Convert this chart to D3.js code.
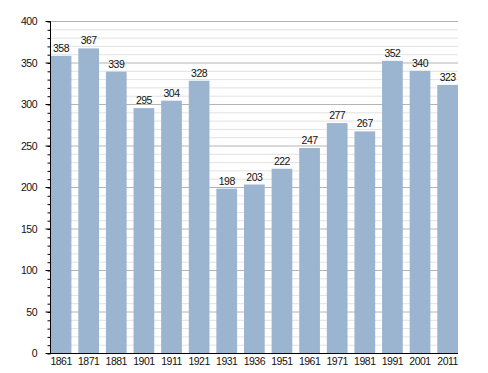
<!DOCTYPE html>
<html>
<head>
<meta charset="utf-8">
<script src="https://cdn.jsdelivr.net/npm/d3@7"></script>
<style>
body { margin: 0; background: #fff; }
text { font-family: "Liberation Sans", Arial, sans-serif; font-size: 10.5px; letter-spacing: -0.5px; fill: #111; }
</style>
</head>
<body>
<svg id="chart" width="488" height="373"></svg>
<script>
const years = ['1861','1871','1881','1901','1911','1921','1931','1936','1951','1961','1971','1981','1991','2001','2011']
const population = [358, 367, 339, 295, 304, 328, 198, 203, 222, 247, 277, 267, 352, 340, 323]
const yTicks = [0, 50, 100, 150, 200, 250, 300, 350, 400]

const svg = d3.select('#chart')
const plotLeft = 50, plotRight = 458, plotTop = 21, plotBottom = 353

const x = d3.scaleBand().domain(years).range([plotLeft + 0.7, plotRight]).paddingInner(0.25).paddingOuter(0)
const y = d3.scaleLinear().domain([0, 400]).range([plotBottom, plotTop])

//grid lines: minor every 10, major every 50
const minor = d3.range(10, 401, 10).filter(v => v % 50 != 0)
svg.append('g').selectAll('line').data(minor).join('line')
    .attr('x1', plotLeft).attr('x2', plotRight)
    .attr('y1', d => y(d) + 0.5).attr('y2', d => y(d) + 0.5)
    .attr('stroke', '#e2e2e2').attr('stroke-width', 1)
svg.append('g').selectAll('line').data(yTicks.slice(1)).join('line')
    .attr('x1', plotLeft).attr('x2', plotRight)
    .attr('y1', d => y(d) + 0.5).attr('y2', d => y(d) + 0.5)
    .attr('stroke', '#b4b4b4').attr('stroke-width', 1)

//bars
svg.append('g').selectAll('rect').data(population).join('rect')
    .attr('x', (d, i) => x(years[i]))
    .attr('y', d => y(d))
    .attr('width', x.bandwidth())
    .attr('height', d => plotBottom - y(d))
    .attr('fill', '#9bb4cf')

//value labels
svg.append('g').selectAll('text').data(population).join('text')
    .attr('x', (d, i) => x(years[i]) + x.bandwidth() / 2)
    .attr('y', d => y(d) - 4)
    .attr('text-anchor', 'middle')
    .text(d => d)

//y axis with minor ticks
const yAxis = svg.append('g').attr('transform', `translate(${plotLeft + 0.5},0.5)`)
yAxis.call(d3.axisLeft(y).tickValues(d3.range(0, 401, 10)).tickSize(3).tickFormat(''))
yAxis.selectAll('.tick line').attr('stroke', '#000')
yAxis.select('.domain').remove()
yAxis.append('line').attr('x1', 0).attr('x2', 0).attr('y1', plotTop).attr('y2', plotBottom).attr('stroke', '#000')
svg.append('g').attr('transform', `translate(${plotLeft + 0.5},0.5)`)
    .selectAll('line').data(yTicks).join('line')
    .attr('x1', -5).attr('x2', 0)
    .attr('y1', d => y(d)).attr('y2', d => y(d))
    .attr('stroke', '#000')
svg.append('g').selectAll('text').data(yTicks).join('text')
    .attr('x', 37).attr('y', d => y(d) + 4)
    .attr('text-anchor', 'end')
    .text(d => d)

//x axis
svg.append('line').attr('x1', plotLeft).attr('x2', plotRight)
    .attr('y1', plotBottom + 0.5).attr('y2', plotBottom + 0.5).attr('stroke', '#000')
svg.append('g').selectAll('text').data(years).join('text')
    .attr('x', d => x(d) + x.bandwidth() / 2)
    .attr('y', plotBottom + 12)
    .attr('text-anchor', 'middle')
    .text(d => d)
</script>
</body>
</html>
